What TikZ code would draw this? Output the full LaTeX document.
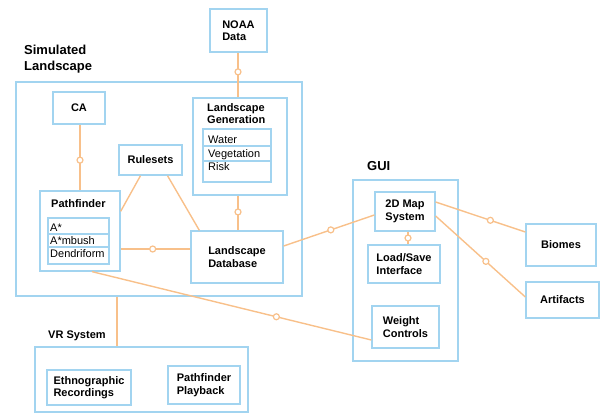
\documentclass[tikz,border=0pt]{standalone}
\usepackage{fontspec}
\setmainfont{Liberation Sans}
\usepackage{xcolor}
\usetikzlibrary{calc}
\definecolor{boxblue}{HTML}{A2D4F0}
\definecolor{linkorange}{HTML}{F8C08A}
\tikzset{
  box/.style={
    draw=boxblue,
    line width=1.3pt,
    rectangle,
    align=left,
    inner sep=2pt,
    font=\fontsize{11}{12.5}\selectfont\bfseries
  },
  link/.style={draw=linkorange, line width=1.4pt},
  knot/.style={circle, draw=linkorange, fill=white, line width=1.2pt, inner sep=0pt, minimum size=6pt},
  grouplabel/.style={font=\fontsize{13}{16}\selectfont\bfseries, align=left, inner sep=0pt},
  boxtitle/.style={font=\fontsize{11}{12.5}\selectfont\bfseries, align=left, inner sep=0pt, anchor=north west},
  item/.style={font=\fontsize{11}{13}\selectfont, inner sep=0pt, anchor=west},
  rowline/.style={draw=boxblue, line width=1.2pt}
}

\begin{document}
\begin{tikzpicture}[x=1pt, y=-1pt]
  \useasboundingbox (0,0) rectangle (600,413);

  % group frames
  \node[box, minimum width=286pt, minimum height=214pt] (sim) at (159,189) {};
  \node[grouplabel, anchor=north west] (simlabel) at (24,45) {Simulated\\Landscape};
  \node[box, minimum width=105pt, minimum height=181pt] (gui) at (405.5,270.5) {};
  \node[grouplabel, anchor=west] (guilabel) at (367,166) {GUI};
  \node[box, minimum width=213pt, minimum height=65pt] (vr) at (141.5,379.5) {};
  \node[grouplabel, font=\fontsize{11}{12.5}\selectfont\bfseries, anchor=west] (vrlabel) at (48,336) {VR System};

  % simulated landscape
  \node[box, minimum width=57pt, minimum height=43pt] (noaa) at (238.5,30.5) {NOAA\\Data};
  \node[box, minimum width=52pt, minimum height=32pt] (ca) at (79,108) {CA};
  \node[box, minimum width=94pt, minimum height=97pt] (landgen) at (240,146.5) {};
  \node[boxtitle] (landgentitle) at (207,103) {Landscape\\Generation};
  \node[box, minimum width=68pt, minimum height=53pt] (genlist) at (237,155.5) {};
  \draw[rowline] (genlist.west |- 0,146) -- (genlist.east |- 0,146);
  \draw[rowline] (genlist.west |- 0,161) -- (genlist.east |- 0,161);
  \node[item] (water) at (208,139.5) {Water};
  \node[item] (vegetation) at (208,154.5) {Vegetation};
  \node[item] (risk) at (208,167) {Risk};
  \node[box, minimum width=63pt, minimum height=30pt] (rules) at (150.5,160) {Rulesets};
  \node[box, minimum width=80pt, minimum height=80pt] (pathfinder) at (80,231) {};
  \node[boxtitle] (pathtitle) at (51,199) {Pathfinder};
  \node[box, minimum width=61pt, minimum height=46pt] (pflist) at (78.5,241) {};
  \draw[rowline] (pflist.west |- 0,234) -- (pflist.east |- 0,234);
  \draw[rowline] (pflist.west |- 0,247) -- (pflist.east |- 0,247);
  \node[item] (astar) at (50,228) {A*};
  \node[item] (ambush) at (50,240.5) {A*mbush};
  \node[item] (dendri) at (50,254) {Dendriform};
  \node[box, minimum width=92pt, minimum height=52pt] (landdb) at (237,257) {Landscape\\Database};

  % vr system
  \node[box, minimum width=84pt, minimum height=35pt] (ethno) at (89,387.5) {Ethnographic\\Recordings};
  \node[box, minimum width=72pt, minimum height=38pt] (playback) at (204,385) {Pathfinder\\Playback};

  % gui
  \node[box, minimum width=60pt, minimum height=39pt] (map2d) at (405,211.5) {2D Map\\System};
  \node[box, minimum width=72pt, minimum height=38pt] (loadsave) at (404,264) {Load/Save\\Interface};
  \node[box, minimum width=67pt, minimum height=42pt] (weights) at (405.5,327) {Weight\\Controls};

  % outside
  \node[box, minimum width=70pt, minimum height=42pt] (biomes) at (561,245) {Biomes};
  \node[box, minimum width=73pt, minimum height=36pt] (artifacts) at (562.5,300) {Artifacts};

  % connectors
  \draw[link] ([xshift=-0.5pt]noaa.south) -- ([xshift=-0.5pt]noaa.south |- landgen.north)
    node[knot, pos=0.43] (k1) {};
  \draw[link] ([xshift=1pt]ca.south) -- ([xshift=1pt]ca.south |- pathfinder.north)
    node[knot, pos=0.54] (k2) {};
  \draw[link] ([xshift=-2pt]landgen.south) -- ([xshift=-2pt]landgen.south |- landdb.north)
    node[knot, pos=0.47] (k3) {};
  \draw[link] ([yshift=-18pt]pathfinder.east) -- ([yshift=-18pt]pathfinder.east -| landdb.west)
    node[knot, pos=0.46] (k4) {};
  \draw[link] ([xshift=-10pt]rules.south) -- ([yshift=-21pt]pathfinder.north east);
  \draw[link] ([xshift=17pt]rules.south) -- ([xshift=9pt]landdb.north west);
  \draw[link] ([yshift=11pt]landdb.east) -- ([yshift=-3.5pt]map2d.west)
    node[knot, pos=0.52] (k5) {};
  \draw[link] ([xshift=12pt]pathfinder.south) -- ([yshift=-13pt]weights.west)
    node[knot, pos=0.66] (k6) {};
  \draw[link] ([xshift=-42pt]sim.south) -- ([xshift=-42pt]sim.south |- vr.north);
  \draw[link] ([xshift=3pt]map2d.south) -- ([xshift=3pt]map2d.south |- loadsave.north)
    node[knot, pos=0.5] (k7) {};
  \draw[link] ([yshift=9.5pt]map2d.east) -- ([yshift=13pt]biomes.west)
    node[knot, pos=0.61] (k8) {};
  \draw[link] ([yshift=-4.5pt]map2d.east) -- ([yshift=3pt]artifacts.west)
    node[knot, pos=0.56] (k9) {};
\end{tikzpicture}
\end{document}
